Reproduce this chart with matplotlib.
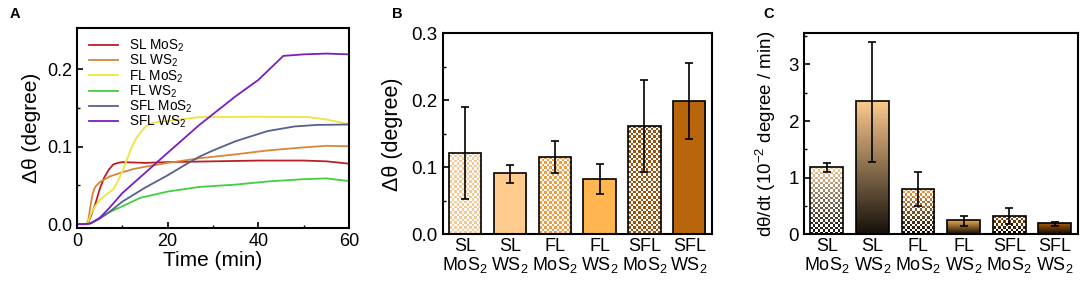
import numpy as np
import matplotlib
matplotlib.use("Agg")
import matplotlib.pyplot as plt
from matplotlib.colors import to_rgb

plt.rcParams["font.family"] = ["Liberation Sans", "DejaVu Sans"]
plt.rcParams["mathtext.fontset"] = "custom"
plt.rcParams["mathtext.rm"] = "Liberation Sans"
plt.rcParams["mathtext.it"] = "Liberation Sans:italic"

# ===== Data =====
# panel A: time traces (min, degree)
sl_mos2_t = [0, 2, 2.5, 4, 5, 6, 7, 8, 9, 10, 15, 20, 30, 40, 50, 55, 60]
sl_mos2_y = [0, 0, 0.002, 0.025, 0.045, 0.060, 0.070, 0.077, 0.079, 0.080, 0.079, 0.080, 0.081, 0.082, 0.082, 0.081, 0.078]

sl_ws2_t = [0, 2, 2.5, 3, 3.5, 4, 5, 7, 10, 12.4, 15, 20, 27, 35, 42, 50, 55, 60]
sl_ws2_y = [0, 0, 0.005, 0.025, 0.040, 0.048, 0.054, 0.061, 0.067, 0.071, 0.074, 0.079, 0.085, 0.090, 0.095, 0.099, 0.101, 0.1005]

fl_mos2_t = [0, 2, 2.5, 3, 4, 5, 6, 8, 9, 10, 11, 12, 13, 14, 15, 16, 17, 20, 27, 40, 51, 55, 60]
fl_mos2_y = [0, 0, 0.003, 0.012, 0.023, 0.031, 0.036, 0.045, 0.055, 0.068, 0.083, 0.098, 0.110, 0.118, 0.125,
             0.129, 0.131, 0.133, 0.138, 0.1385, 0.138, 0.135, 0.129]

fl_ws2_t = [0, 2, 3, 4, 5, 7, 10, 14, 20, 27, 35, 42, 50, 55, 60]
fl_ws2_y = [0, 0, 0.001, 0.004, 0.008, 0.015, 0.023, 0.034, 0.042, 0.048, 0.051, 0.055, 0.058, 0.059, 0.0555]

sfl_mos2_t = [0, 2, 3, 5, 7, 10, 15, 20, 24, 27, 30, 35, 42, 48, 53, 60]
sfl_mos2_y = [0, 0, 0.001, 0.007, 0.015, 0.029, 0.047, 0.063, 0.077, 0.087, 0.095, 0.107, 0.120, 0.126, 0.128, 0.1285]

sfl_ws2_t = [0, 2, 3, 5, 7, 10, 15, 20, 27, 35, 40, 45.5, 50, 55, 60]
sfl_ws2_y = [0, 0, 0.001, 0.008, 0.020, 0.040, 0.066, 0.092, 0.128, 0.165, 0.186, 0.217, 0.219, 0.220, 0.219]

samples = ["SL\nMoS$_2$", "SL\nWS$_2$", "FL\nMoS$_2$", "FL\nWS$_2$", "SFL\nMoS$_2$", "SFL\nWS$_2$"]
legend_labels = ["SL MoS$_2$", "SL WS$_2$", "FL MoS$_2$", "FL WS$_2$", "SFL MoS$_2$", "SFL WS$_2$"]

# panel B: total shift
shift = [0.121, 0.091, 0.116, 0.083, 0.162, 0.199]
shift_lo = [0.052, 0.077, 0.092, 0.060, 0.093, 0.142]
shift_hi = [0.190, 0.104, 0.139, 0.105, 0.231, 0.256]

# panel C: rate
rate = [1.18, 2.35, 0.80, 0.25, 0.33, 0.20]
rate_lo = [1.10, 1.27, 0.50, 0.15, 0.18, 0.15]
rate_hi = [1.26, 3.40, 1.10, 0.32, 0.47, 0.22]

line_colors = ["#B82025", "#D8863A", "#F2E23E", "#3FD03F", "#56608E", "#7A1EC0"]
bar_colors = ["#F3C998", "#FFCB8E", "#EE9F45", "#FFB550", "#9A520E", "#B9650C"]
checkered = [True, False, True, False, True, False]

W, H = 1084, 288
fig = plt.figure(figsize=(W / 100, H / 100), dpi=100)

def style_axes(ax):
    for s in ax.spines.values():
        s.set_linewidth(1.5)
    ax.tick_params(which="both", direction="in", labelsize=13, top=False, right=False)
    ax.tick_params(which="major", length=4, width=1.2)
    ax.tick_params(which="minor", length=2.5, width=1)

def fill_bar(ax, bar, color, checker, fade, cell=2.5):
    x0, y0 = bar.get_xy()
    w, h = bar.get_width(), bar.get_height()
    p0 = ax.transData.transform((x0, y0))
    p1 = ax.transData.transform((x0 + w, y0 + h))
    nx = max(1, int(round((p1[0] - p0[0]) / cell)))
    ny = max(1, int(round((p1[1] - p0[1]) / cell)))
    if not checker:
        nx, ny = 1, 200
    img = np.ones((ny, nx, 3)) * np.array(to_rgb(color))
    if fade:
        f = np.linspace(0.08, 1, ny)[:, None, None]
        img = img * f
    if checker:
        jj, ii = np.meshgrid(np.arange(nx), np.arange(ny))
        img[(ii + jj) % 2 == 1] = 1.0
    im = ax.imshow(img, extent=(x0, x0 + w, y0, y0 + h), origin="lower",
                   aspect="auto", interpolation="nearest", zorder=1)
    im.set_clip_path(bar)

# ===== Panel A =====
axA = fig.add_axes([77 / W, 1 - 228 / H, 272 / W, 200 / H])
series = [(sl_mos2_t, sl_mos2_y), (sl_ws2_t, sl_ws2_y), (fl_mos2_t, fl_mos2_y),
          (fl_ws2_t, fl_ws2_y), (sfl_mos2_t, sfl_mos2_y), (sfl_ws2_t, sfl_ws2_y)]
for (t, y), c, lab in zip(series, line_colors, legend_labels):
    axA.plot(t, y, color=c, lw=1.3, label=lab)
axA.set_xlim(0, 60)
axA.set_ylim(-0.005, 0.253)
axA.set_xticks([0, 20, 40, 60])
axA.set_xticks([10, 30, 50], minor=True)
axA.set_yticks([0.0, 0.1, 0.2])
axA.set_yticks([0.05, 0.15], minor=True)
axA.set_yticklabels(["0.0", "0.1", "0.2"])
axA.set_xlabel("Time (min)", fontsize=15, labelpad=1)
axA.set_ylabel("Δθ (degree)", fontsize=15, labelpad=4)
style_axes(axA)
axA.legend(loc="upper left", bbox_to_anchor=(0.01, 1.0), frameon=False, fontsize=9.8,
           handlelength=2.1, handletextpad=0.8, labelspacing=-0.08, borderpad=0.2)
fig.text(10 / W, 1 - 14 / H, "A", fontsize=10.5, fontweight="bold", va="center")

# ===== Panel B =====
axB = fig.add_axes([442.7 / W, 1 - 234.3 / H, 269 / W, 201 / H])
x = np.arange(len(samples))
axB.set_xlim(-0.5, 5.5)
axB.set_ylim(0, 0.3)
barsB = axB.bar(x, shift, width=0.72, facecolor="none", edgecolor="black", linewidth=1.2, zorder=2)
for b, c, chk in zip(barsB, bar_colors, checkered):
    fill_bar(axB, b, c, chk, fade=False)
yerr = [np.array(shift) - np.array(shift_lo), np.array(shift_hi) - np.array(shift)]
axB.errorbar(x, shift, yerr=yerr, fmt="none", ecolor="black", elinewidth=1.2, capsize=3, capthick=1.2, zorder=3)
axB.set_xlim(-0.5, 5.5)
axB.set_ylim(0, 0.3)
axB.set_xticks(x)
axB.set_xticklabels(samples, fontsize=12, linespacing=0.95)
axB.set_yticks([0.0, 0.1, 0.2, 0.3])
axB.set_yticks([0.05, 0.15, 0.25], minor=True)
axB.set_yticklabels(["0.0", "0.1", "0.2", "0.3"])
axB.set_ylabel("Δθ (degree)", fontsize=15.5, labelpad=6)
style_axes(axB)
axB.tick_params(axis="y", labelsize=13.5)
axB.tick_params(axis="x", length=0, pad=3)
fig.text(392 / W, 1 - 14 / H, "B", fontsize=10.5, fontweight="bold", va="center")

# ===== Panel C =====
axC = fig.add_axes([804 / W, 1 - 234.3 / H, 273.7 / W, 201 / H])
axC.set_xlim(-0.5, 5.5)
axC.set_ylim(0, 3.55)
barsC = axC.bar(x, rate, width=0.72, facecolor="none", edgecolor="black", linewidth=1.2, zorder=2)
for b, c, chk in zip(barsC, bar_colors, checkered):
    fill_bar(axC, b, c, chk, fade=True)
yerr = [np.array(rate) - np.array(rate_lo), np.array(rate_hi) - np.array(rate)]
axC.errorbar(x, rate, yerr=yerr, fmt="none", ecolor="black", elinewidth=1.2, capsize=3, capthick=1.2, zorder=3)
axC.set_xlim(-0.5, 5.5)
axC.set_ylim(0, 3.55)
axC.set_xticks(x)
axC.set_xticklabels(samples, fontsize=12, linespacing=0.95)
axC.set_yticks([0, 1, 2, 3])
axC.set_yticks([0.5, 1.5, 2.5, 3.5], minor=True)
axC.set_ylabel("dθ/dt (10$^{-2}$ degree / min)", fontsize=13.5, labelpad=8)
style_axes(axC)
axC.tick_params(axis="y", labelsize=13.5)
axC.tick_params(axis="x", length=0, pad=3)
fig.text(763 / W, 1 - 14 / H, "C", fontsize=10.5, fontweight="bold", va="center")

fig.savefig("out.png", dpi=100)
